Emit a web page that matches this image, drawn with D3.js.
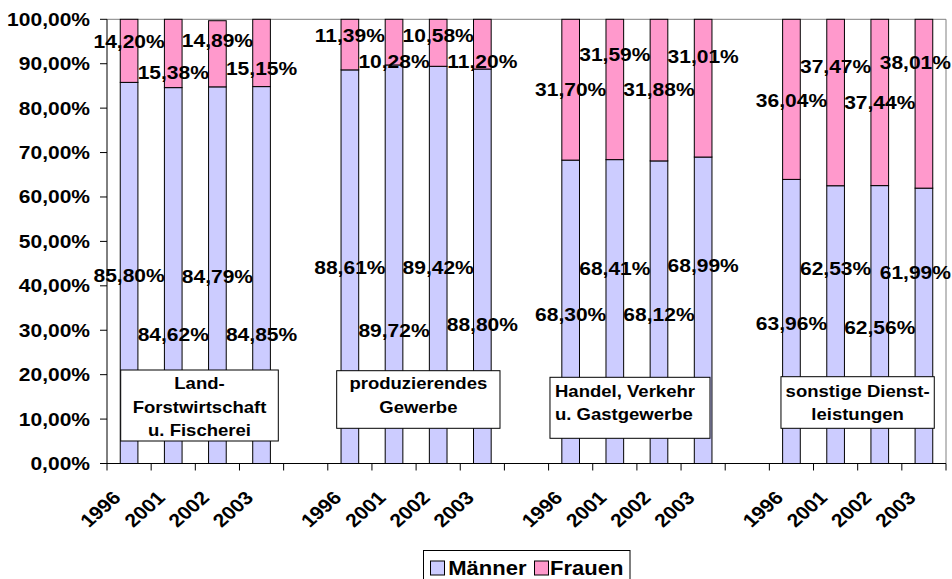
<!DOCTYPE html>
<html>
<head>
<meta charset="utf-8">
<script src="https://cdn.jsdelivr.net/npm/d3@7"></script>
<style>
  html, body { margin: 0; padding: 0; background: #fff; }
  svg { display: block; }
  text { font-family: "Liberation Sans", Arial, sans-serif; font-weight: bold; fill: #000; }
</style>
</head>
<body>
<script>
// Beschäftigte nach Wirtschaftsbereichen: Anteile von Männern und Frauen (in %)
const branchen = ["Land-Forstwirtschaft u. Fischerei", "produzierendes Gewerbe",
                  "Handel, Verkehr u. Gastgewerbe", "sonstige Dienstleistungen"];
const jahre = ["1996", "2001", "2002", "2003"];
const maenner = [85.80, 84.62, 84.79, 84.85,
                 88.61, 89.72, 89.42, 88.80,
                 68.30, 68.41, 68.12, 68.99,
                 63.96, 62.53, 62.56, 61.99];
const frauen  = [14.20, 15.38, 14.89, 15.15,
                 11.39, 10.28, 10.58, 11.20,
                 31.70, 31.59, 31.88, 31.01,
                 36.04, 37.47, 37.44, 38.01];
const yTicks = [0, 10, 20, 30, 40, 50, 60, 70, 80, 90, 100];
const serien = ["Männer", "Frauen"];

// Höhe (in %-Einheiten) an der die Beschriftungen stehen, versetzt damit sie sich nicht überlappen
const maennerLabelAt = [42.4, 29.1, 42.2, 29.1, 44.2, 30.0, 44.2, 31.2,
                        33.5, 43.8, 33.5, 44.5, 31.5, 43.8, 30.7, 42.9];
const frauenLabelAt  = [95.1, 88.0, 95.3, 89.0, 96.3, 90.5, 96.3, 90.5,
                        84.3, 92.0, 84.3, 91.6, 81.8, 89.4, 81.3, 90.2];

// Textfelder mit den Bereichsnamen, relativ zum ersten Slot der Gruppe
const boxen = [
  { dx: 13.7, w: 157.6, top: 370.0, h: 71.0, align: "middle", lines: ["Land-", "Forstwirtschaft", "u. Fischerei"], base: 389.3 },
  { dx: 8.9,  w: 163.3, top: 370.7, h: 57.6, align: "middle", lines: ["produzierendes", "Gewerbe"], base: 389.3 },
  { dx: 1.4,  w: 160.0, top: 377.3, h: 61.0, align: "start",  lines: ["Handel, Verkehr", "u. Gastgewerbe"], base: 396.7 },
  { dx: 11.6, w: 153.3, top: 376.7, h: 51.6, align: "middle", lines: ["sonstige Dienst-", "leistungen"], base: 396.7 }
];

const W = 952, H = 579;
const STRETCH = 1.13;
const farbe = { "Männer": "#CCCCFF", "Frauen": "#FF99CC" };

const de = d3.formatLocale({ decimal: ",", thousands: ".", grouping: [3], currency: ["", " €"] });
const pct = v => de.format(".2f")(v) + "%";

const svg = d3.select("body").append("svg").attr("width", W).attr("height", H);

// 4 Gruppen à 4 Jahre, getrennt durch je einen leeren Slot
const nSlots = branchen.length * (jahre.length + 1) - 1;
const slotOf = i => Math.floor(i / jahre.length) * (jahre.length + 1) + (i % jahre.length);

const x = d3.scaleBand().domain(d3.range(nSlots)).range([107, 946]).padding(0);
const y = d3.scaleLinear().domain([0, 100]).range([463.5, 19.3]);
const bw = x.bandwidth();
const barW = bw * 0.4;
const cx = i => x(slotOf(i)) + bw / 2;

// Rahmen der Zeichenfläche (oben und rechts)
svg.append("path")
  .attr("d", `M${x.range()[0]},${y(100)}H${x.range()[1]}V${y(0)}`)
  .attr("fill", "none").attr("stroke", "#808080").attr("stroke-width", 1);

// Säulen
const bars = svg.append("g");
maenner.forEach((m, i) => {
  const x0 = cx(i) - barW / 2;
  bars.append("rect")
    .attr("x", x0).attr("width", barW)
    .attr("y", y(m)).attr("height", y(0) - y(m))
    .attr("fill", farbe["Männer"]).attr("stroke", "#000").attr("stroke-width", 1);
  bars.append("rect")
    .attr("x", x0).attr("width", barW)
    .attr("y", y(m + frauen[i])).attr("height", y(m) - y(m + frauen[i]))
    .attr("fill", farbe["Frauen"]).attr("stroke", "#000").attr("stroke-width", 1);
});

// Y-Achse
const yAxis = svg.append("g");
yAxis.append("line").attr("x1", 107).attr("x2", 107).attr("y1", y(0)).attr("y2", y(100))
  .attr("stroke", "#000");
yTicks.forEach(t => {
  yAxis.append("line").attr("x1", 100).attr("x2", 107).attr("y1", y(t)).attr("y2", y(t))
    .attr("stroke", "#000");
  yAxis.append("text")
    .attr("transform", `translate(90,${y(t)}) scale(${STRETCH},1)`)
    .attr("dy", "0.35em").attr("text-anchor", "end")
    .style("font-size", "18.6px")
    .text(pct(t));
});

// X-Achse mit Teilstrichen an den Slotgrenzen
const xAxis = svg.append("g");
xAxis.append("line").attr("x1", x.range()[0]).attr("x2", x.range()[1])
  .attr("y1", y(0)).attr("y2", y(0)).attr("stroke", "#000");
d3.range(nSlots + 1).forEach(s => {
  const xs = s < nSlots ? x(s) : x.range()[1];
  xAxis.append("line").attr("x1", xs).attr("x2", xs).attr("y1", y(0)).attr("y2", y(0) + 7)
    .attr("stroke", "#000");
});
maenner.forEach((m, i) => {
  xAxis.append("text")
    .attr("transform", `translate(${cx(i) - 7},499) scale(${STRETCH},1) rotate(-45)`)
    .attr("text-anchor", "end")
    .style("font-size", "18.6px")
    .text(jahre[i % jahre.length]);
});

// Textfelder der Wirtschaftsbereiche
boxen.forEach((b, g) => {
  const left = x(g * (jahre.length + 1)) + b.dx;
  const grp = svg.append("g");
  grp.append("rect").attr("x", left).attr("y", b.top).attr("width", b.w).attr("height", b.h)
    .attr("fill", "#fff").attr("stroke", "#000").attr("stroke-width", 1);
  const tx = b.align === "middle" ? left + b.w / 2 : left + 5;
  b.lines.forEach((ln, k) => {
    grp.append("text")
      .attr("transform", `translate(${tx},${b.base + k * 23.2}) scale(${STRETCH},1)`)
      .attr("text-anchor", b.align)
      .style("font-size", "16.4px")
      .text(ln);
  });
});

// Datenbeschriftungen, am rechten Rand nach innen geschoben
const labels = svg.append("g");
function wertLabel(xc, val, at) {
  const t = labels.append("text")
    .attr("dy", "0.35em").attr("text-anchor", "middle")
    .style("font-size", "18.6px")
    .text(pct(val));
  const half = t.node().getComputedTextLength() * STRETCH / 2;
  const xPos = Math.min(xc, W - 1 - half);
  t.attr("transform", `translate(${xPos},${y(at)}) scale(${STRETCH},1)`);
}
maenner.forEach((m, i) => {
  wertLabel(cx(i), m, maennerLabelAt[i]);
  wertLabel(cx(i), frauen[i], frauenLabelAt[i]);
});

// Legende
const leg = svg.append("g");
leg.append("rect").attr("x", 423.5).attr("y", 550.5).attr("width", 206.5).attr("height", 40)
  .attr("fill", "#fff").attr("stroke", "#000").attr("stroke-width", 1);
const legItems = [{ name: serien[0], sx: 430.5, tx: 448.3 }, { name: serien[1], sx: 534.5, tx: 550 }];
legItems.forEach(it => {
  leg.append("rect").attr("x", it.sx).attr("y", 561).attr("width", 14).attr("height", 14)
    .attr("fill", farbe[it.name]).attr("stroke", "#000").attr("stroke-width", 1);
  leg.append("text")
    .attr("transform", `translate(${it.tx},575) scale(1.1,1)`)
    .style("font-size", "20px")
    .text(it.name);
});
</script>
</body>
</html>
